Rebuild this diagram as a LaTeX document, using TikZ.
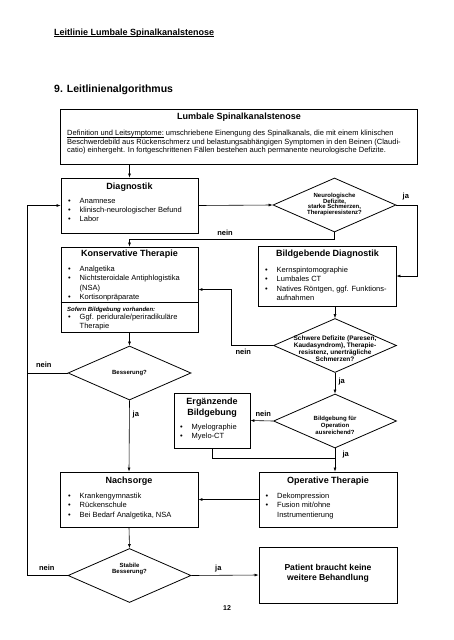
\documentclass[tikz,border=0pt]{standalone}
\usepackage{fontspec}
\setmainfont{Liberation Sans}
\usetikzlibrary{shapes.geometric,arrows.meta,positioning,calc}

\newcommand{\bul}[1]{\makebox[11.5pt][l]{\textbullet}#1}
\newcommand{\cnt}[1]{\hspace*{11.5pt}#1}
\newcommand{\undl}[1]{\setbox0\hbox{#1}\rlap{\rule[-1.4pt]{\wd0}{0.5pt}}\box0\relax}

\begin{document}
\begin{tikzpicture}[x=1pt, y=-1pt,
        box/.style = {draw, line width=0.9pt, inner sep=0pt},
        dia/.style = {draw, diamond, line width=0.8pt, inner sep=0pt,
                      minimum width=123pt, minimum height=54pt},
        ttl/.style = {inner sep=0pt, align=center, font=\fontsize{9}{11}\selectfont\bfseries},
        lst/.style = {anchor=north west, inner sep=0pt, align=left,
                      font=\fontsize{7.5}{9.3}\selectfont},
        qst/.style = {inner sep=0pt, align=center, font=\fontsize{6}{6.5}\selectfont\bfseries},
        lbl/.style = {inner sep=0pt, font=\fontsize{7.5}{9}\selectfont\bfseries},
        con/.style = {line width=0.6pt},
        arr/.style = {con, -{Latex[length=4pt,width=3pt]}}]
        \useasboundingbox (0,0) rectangle (453,640);

        \node[anchor=west, inner sep=0pt, font=\fontsize{9}{11}\selectfont\bfseries] (head) at (54,33)
          {\undl{Leitlinie Lumbale Spinalkanalstenose}};
        \node[anchor=west, inner sep=0pt, font=\fontsize{10.5}{12}\selectfont\bfseries] (sec) at (54,90)
          {9. Leitlinienalgorithmus};

        \node[box, minimum width=357pt, minimum height=55pt] (def) at (238.5,136.5) {};
        \node[ttl] (deft) at (239,117) {Lumbale Spinalkanalstenose};
        \node[lst, font=\fontsize{7.5}{8.5}\selectfont] (defl) at (67,130.3)
          {\undl{Definition und Leitsymptome:} umschriebene Einengung des Spinalkanals, die mit einem klinischen\\
           Beschwerdebild aus Rückenschmerz und belastungsabhängigen Symptomen in den Beinen (Claudi-\\
           catio) einhergeht. In fortgeschrittenen Fällen bestehen auch permanente neurologische Defizite.};

        \node[box, minimum width=137pt, minimum height=55pt] (diag) at (129.5,205.5) {};
        \node[ttl] (diagt) at (129.5,187) {Diagnostik};
        \node[lst] (diagl) at (68,198)
          {\bul{Anamnese}\\ \bul{klinisch-neurologischer Befund}\\ \bul{Labor}};

        \node[dia] (d1) at (334.5,205) {};
        \node[qst, font=\fontsize{6}{5.8}\selectfont\bfseries] (d1t) at (334.5,204.5)
          {Neurologische\\ Defizite,\\ starke Schmerzen,\\ Therapieresistenz?};

        \node[box, minimum width=137pt, minimum height=85pt] (kons) at (129.5,289.5) {};
        \node[ttl] (konst) at (129.5,254) {Konservative Therapie};
        \node[lst] (konsl) at (68,266)
          {\bul{Analgetika}\\ \bul{Nichtsteroidale Antiphlogistika}\\ \cnt{(NSA)}\\ \bul{Kortisonpräparate}};
        \draw[line width=0.9pt] ([yshift=-12.5pt]kons.west) -- ([yshift=-12.5pt]kons.east);
        \node[lst, font=\fontsize{6}{7}\selectfont\bfseries\itshape] (konss) at (67,306.5)
          {Sofern Bildgebung vorhanden:};
        \node[lst] (konsb) at (68,314)
          {\bul{Ggf. peridurale/periradikuläre}\\ \cnt{Therapie}};

        \node[box, minimum width=138pt, minimum height=60pt] (bild) at (327,276) {};
        \node[ttl] (bildt) at (327.5,254) {Bildgebende Diagnostik};
        \node[lst] (bildl) at (265,267)
          {\bul{Kernspintomographie}\\ \bul{Lumbales CT}\\ \bul{Natives Röntgen, ggf. Funktions-}\\ \cnt{aufnahmen}};

        \node[dia] (d2) at (335,345.5) {};
        \node[qst, font=\fontsize{6.5}{7}\selectfont\bfseries] (d2t) at (335,348.5)
          {Schwere Defizite (Paresen,\\ Kaudasyndrom), Therapie-\\ resistenz, unerträgliche\\ Schmerzen?};

        \node[dia] (bes) at (129.5,373) {};
        \node[qst] (best) at (129.5,373) {Besserung?};

        \node[dia] (d3) at (335,421) {};
        \node[qst, font=\fontsize{6}{7}\selectfont\bfseries] (d3t) at (335,425)
          {Bildgebung für\\ Operation\\ ausreichend?};

        \node[box, minimum width=76pt, minimum height=55pt] (erg) at (212,420.5) {};
        \node[ttl] (ergt) at (212,407.5) {Ergänzende\\ Bildgebung};
        \node[lst] (ergl) at (180,424) {\bul{Myelographie}\\ \bul{Myelo-CT}};

        \node[box, minimum width=138pt, minimum height=55pt] (nach) at (129,499.5) {};
        \node[ttl] (nacht) at (129,481) {Nachsorge};
        \node[lst] (nachl) at (68,493)
          {\bul{Krankengymnastik}\\ \bul{Rückenschule}\\ \bul{Bei Bedarf Analgetika, NSA}};

        \node[box, minimum width=138pt, minimum height=55pt] (op) at (328,499.5) {};
        \node[ttl] (opt) at (328,481) {Operative Therapie};
        \node[lst] (opl) at (265.5,493)
          {\bul{Dekompression}\\ \bul{Fusion mit/ohne}\\ \cnt{Instrumentierung}};

        \node[dia] (stab) at (129.5,575.5) {};
        \node[qst] (stabt) at (129.5,569) {Stabile\\ Besserung?};

        \node[box, minimum width=138pt, minimum height=56pt] (pat) at (328,575) {};
        \node[ttl, font=\fontsize{8.6}{10}\selectfont\bfseries] (patt) at (328,573)
          {Patient braucht keine\\ weitere Behandlung};

        \node[inner sep=0pt, font=\fontsize{7}{8}\selectfont\bfseries] (page) at (227,608) {12};

        \coordinate (lft) at (27,0);
        \coordinate (rgt) at (417,0);
        \coordinate (mid) at (231,0);
        \coordinate (j1) at (334.5,239);
        \coordinate (j3) at (335,458);

        \draw[arr] (def.south -| diag.north) -- (diag.north);
        \draw[arr] (diag.east) -- (d1.west);
        \draw[arr] (d1.south) -- (j1) -| (kons.north);
        \draw[arr] (d1.east) -- (d1.east -| rgt) |- (bild.east);
        \draw[arr] (d2.north |- bild.south) -- (d2.north);
        \draw[arr] (d2.west) -- (d2.west -| mid) |- (kons.east);
        \draw[arr] (d2.south) -- (d3.north);
        \draw[arr] (d3.west) -- (erg.east);
        \draw[con] (erg.south) |- (j3);
        \draw[arr] (d3.south) -- (d3.south |- op.north);
        \draw[arr] (kons.south) -- (bes.north);
        \draw[arr] (bes.south) -- (nach.north);
        \draw[con] (bes.west) -- (bes.west -| lft);
        \draw[arr] (stab.west) -- (stab.west -| lft) -- (lft |- diag.west) -- (diag.west);
        \draw[arr] (op.west) -- (nach.east);
        \draw[arr] (nach.south) -- (stab.north);
        \draw[arr] (stab.east) -- (pat.west);

        \node[lbl] (n1) at (225,233.3) {nein};
        \node[lbl] (y1) at (405.8,196.7) {ja};
        \node[lbl] (n2) at (243.3,352.3) {nein};
        \node[lbl] (y2) at (341.7,381.7) {ja};
        \node[lbl] (n3) at (263.3,414.3) {nein};
        \node[lbl] (y3) at (345.7,455) {ja};
        \node[lbl] (n4) at (43.8,365) {nein};
        \node[lbl] (y4) at (135.8,414.3) {ja};
        \node[lbl] (n5) at (46.8,568.3) {nein};
        \node[lbl] (y5) at (218.3,568.3) {ja};
\end{tikzpicture}
\end{document}
